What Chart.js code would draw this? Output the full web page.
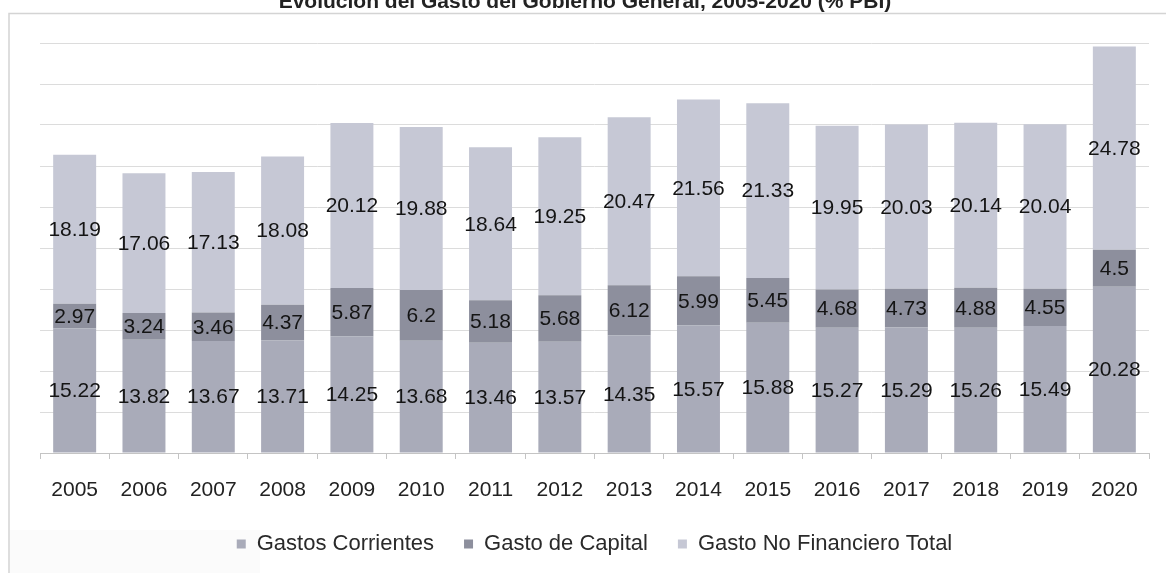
<!DOCTYPE html>
<html>
<head>
<meta charset="utf-8">
<script src="https://cdn.jsdelivr.net/npm/chart.js@4/dist/chart.umd.min.js"></script>
<style>
  html, body { margin: 0; padding: 0; background: #fff; }
  #wrap { width: 1166px; height: 573px; position: relative; }
</style>
</head>
<body>
<div id="wrap"><canvas id="chart" width="1166" height="573"></canvas></div>
<script>
// datos (% PBI)
const years = ["2005", "2006", "2007", "2008", "2009", "2010", "2011", "2012",
    "2013", "2014", "2015", "2016", "2017", "2018", "2019", "2020"];
const gastosCorrientes = [15.22, 13.82, 13.67, 13.71, 14.25, 13.68, 13.46, 13.57,
    14.35, 15.57, 15.88, 15.27, 15.29, 15.26, 15.49, 20.28];
const gastoCapital = [2.97, 3.24, 3.46, 4.37, 5.87, 6.2, 5.18, 5.68,
    6.12, 5.99, 5.45, 4.68, 4.73, 4.88, 4.55, 4.5];
const gastoNoFinanciero = [18.19, 17.06, 17.13, 18.08, 20.12, 19.88, 18.64, 19.25,
    20.47, 21.56, 21.33, 19.95, 20.03, 20.14, 20.04, 24.78];

const titleText = "Evolución del Gasto del Gobierno General, 2005-2020 (% PBI)";
const FONT = "'Liberation Sans', Arial, sans-serif";

// marco, título (cortado arriba) y etiquetas de valores
const decorPlugin = {
    id: "decor",
    beforeDraw(chart) {
        const c = chart.ctx;
        c.save();
        c.fillStyle = "#fbfbfb";
        c.fillRect(10, 530, 250, 43);
        c.strokeStyle = "#d4d4d4";
        c.lineWidth = 1.5;
        c.beginPath();
        c.moveTo(9, 573);
        c.lineTo(9, 13.5);
        c.lineTo(1166, 13.5);
        c.stroke();
        c.restore();
    },
    afterDatasetsDraw(chart) {
        const c = chart.ctx;
        c.save();
        c.font = "21px " + FONT;
        c.fillStyle = "#141414";
        c.textAlign = "center";
        c.textBaseline = "middle";
        chart.data.datasets.forEach((ds, i) => {
            const meta = chart.getDatasetMeta(i);
            meta.data.forEach((bar, j) => {
                const y = (bar.y + bar.base) / 2;
                c.fillText(String(ds.data[j]), bar.x, y + 1);
            });
        });
        c.font = "bold 21px " + FONT;
        c.fillStyle = "#222";
        c.textBaseline = "alphabetic";
        c.fillText(titleText, 585, 8);
        c.restore();
    }
};

new Chart(document.getElementById("chart"), {
    type: "bar",
    data: {
        labels: years,
        datasets: [
            { label: "Gastos Corrientes", data: gastosCorrientes, backgroundColor: "#a9abb9" },
            { label: "Gasto de Capital", data: gastoCapital, backgroundColor: "#8d8f9d" },
            { label: "Gasto No Financiero Total", data: gastoNoFinanciero, backgroundColor: "#c6c8d5" }
        ]
    },
    options: {
        responsive: false,
        animation: false,
        layout: { padding: { left: 40, right: 17, top: 43, bottom: 8 } },
        datasets: {
            bar: { categoryPercentage: 1, barPercentage: 0.62 }
        },
        plugins: {
            legend: {
                position: "bottom",
                labels: {
                    font: { family: FONT, size: 22 },
                    color: "#2a2a2a",
                    boxWidth: 9,
                    boxHeight: 9,
                    padding: 30
                }
            },
            tooltip: { enabled: false }
        },
        scales: {
            x: {
                stacked: true,
                // alto fijo del eje para dejar el área del gráfico igual que el original
                afterFit(scale) { scale.height = 50; },
                border: { display: true, color: "#c4c4c4", width: 1 },
                grid: {
                    display: true,
                    drawOnChartArea: false,
                    drawTicks: true,
                    tickLength: 6,
                    color: "#c4c4c4"
                },
                ticks: {
                    font: { family: FONT, size: 21 },
                    color: "#222",
                    padding: 19,
                    maxRotation: 0
                }
            },
            y: {
                stacked: true,
                min: 0,
                max: 50,
                border: { display: false },
                grid: { color: "#dcdcdc", drawTicks: false, lineWidth: 1 },
                ticks: { display: false, stepSize: 5 }
            }
        }
    },
    plugins: [decorPlugin]
});
</script>
</body>
</html>
